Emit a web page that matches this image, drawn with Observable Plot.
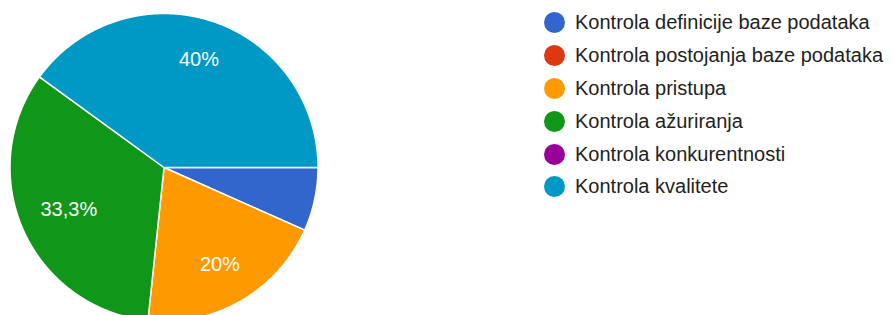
<!DOCTYPE html>
<html>
<head>
<meta charset="utf-8">
<script src="https://cdn.jsdelivr.net/npm/d3@7"></script>
<script src="https://cdn.jsdelivr.net/npm/@observablehq/plot@0.6"></script>
<style>
  html, body { margin: 0; padding: 0; background: #fff; }
  #wrap { position: relative; width: 894px; height: 315px; overflow: hidden; }
  #legend { position: absolute; left: 544px; top: 6px; font-family: "Liberation Sans", Arial, sans-serif; font-size: 20px; color: #222; }
  .row { display: flex; align-items: center; height: 32.9px; white-space: nowrap; }
  .sw { width: 21px; height: 21px; border-radius: 50%; margin-right: 10px; flex: none; }
</style>
</head>
<body>
<div id="wrap"><div id="legend"></div></div>
<script>
const categories = [
  "Kontrola definicije baze podataka",
  "Kontrola postojanja baze podataka",
  "Kontrola pristupa",
  "Kontrola ažuriranja",
  "Kontrola konkurentnosti",
  "Kontrola kvalitete"
];
const counts = [1, 0, 3, 5, 0, 6];
const colors = ["#3366cc", "#dc3912", "#ff9900", "#109618", "#990099", "#0099c6"];

const total = d3.sum(counts);
const startAngle = Math.PI / 2; // 3 o'clock, clockwise
const fmt = p => (Math.round(p * 1000) / 10).toString().replace(".", ",") + "%";

const poly = [];
const labels = [];
let a = startAngle;
categories.forEach((c, i) => {
  const v = counts[i];
  if (v <= 0) return;
  const a0 = a, a1 = a + 2 * Math.PI * v / total;
  a = a1;
  poly.push({key: c, x: 0, y: 0});
  const n = Math.max(2, Math.ceil((a1 - a0) / 0.005));
  for (let k = 0; k <= n; k++) {
    const t = a0 + (a1 - a0) * k / n;
    poly.push({key: c, x: Math.sin(t), y: Math.cos(t)});
  }
  poly.push({key: c, x: 0, y: 0});
  const p = v / total;
  if (p >= 0.1) {
    const m = (a0 + a1) / 2;
    const txt = fmt(p);
    const w = txt.length * 11 / 154;
    const r = 0.75 - 0.45 * (w / 2) * Math.abs(Math.sin(m));
    labels.push({key: c, text: txt, x: r * Math.sin(m), y: r * Math.cos(m)});
  }
});

const R = 154, cx = 163.5, cy = 167;
const plot = Plot.plot({
  width: 894,
  height: 315,
  margin: 0,
  style: {fontFamily: '"Liberation Sans", Arial, sans-serif', background: "transparent"},
  x: {domain: [-1, 1], range: [cx - R, cx + R], axis: null},
  y: {domain: [-1, 1], range: [cy + R, cy - R], axis: null},
  color: {domain: categories, range: colors},
  marks: [
    Plot.line(poly, {x: "x", y: "y", z: "key", fill: "key", stroke: "white", strokeWidth: 1.5, curve: "linear"}),
    Plot.text(labels, {x: "x", y: "y", text: "text", fill: "white", fontSize: 20})
  ]
});
plot.style.position = "absolute";
plot.style.left = "0px";
plot.style.top = "0px";
const wrap = document.getElementById("wrap");
wrap.insertBefore(plot, wrap.firstChild);

const legend = document.getElementById("legend");
categories.forEach((c, i) => {
  const row = document.createElement("div");
  row.className = "row";
  const sw = document.createElement("span");
  sw.className = "sw";
  sw.style.background = colors[i];
  const t = document.createElement("span");
  t.textContent = c;
  row.appendChild(sw);
  row.appendChild(t);
  legend.appendChild(row);
});
</script>
</body>
</html>
